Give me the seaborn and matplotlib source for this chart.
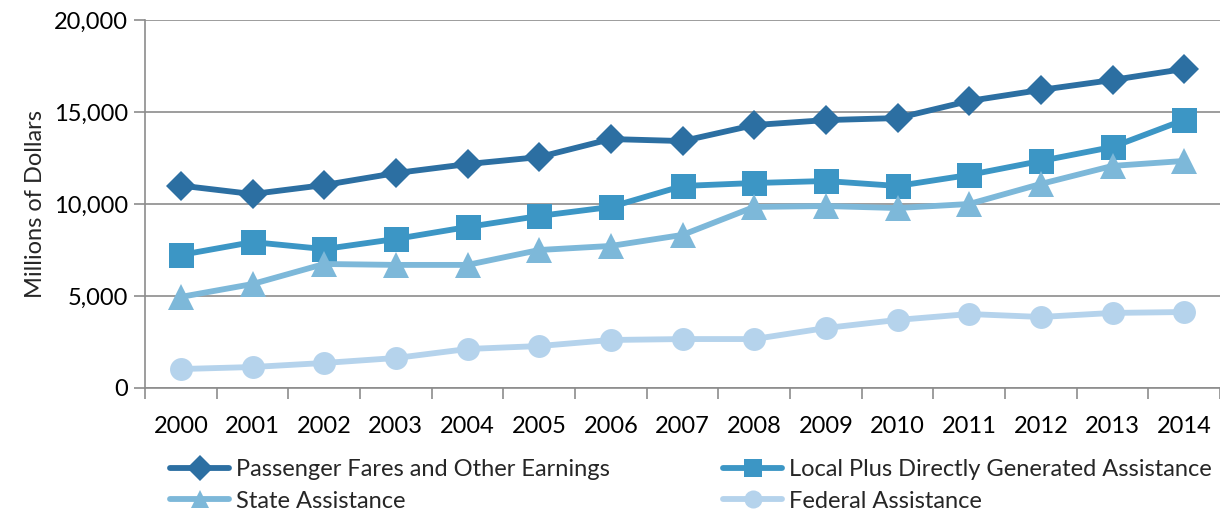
import matplotlib
matplotlib.use("Agg")
import matplotlib.pyplot as plt
import seaborn as sns
import pandas as pd
from matplotlib.ticker import FuncFormatter

years = [str(y) for y in range(2000, 2015)]
passenger = [11000, 10540, 11030, 11680, 12170, 12550, 13530, 13420, 14290, 14560, 14670, 15600, 16200, 16740, 17340]
local = [7230, 7930, 7550, 8100, 8750, 9350, 9840, 10980, 11140, 11250, 10980, 11580, 12340, 13100, 14570]
state = [4950, 5650, 6740, 6690, 6690, 7500, 7720, 8320, 9840, 9890, 9780, 10000, 11090, 12070, 12340]
federal = [1030, 1140, 1360, 1630, 2120, 2280, 2610, 2660, 2660, 3260, 3700, 4020, 3860, 4080, 4130]

names = ["Passenger Fares and Other Earnings", "Local Plus Directly Generated Assistance",
         "State Assistance", "Federal Assistance"]
colors = ["#2C6FA2", "#3C96C5", "#7DB8D9", "#B5D3EC"]
markers = ["D", "s", "^", "o"]
msizes = [15.5, 18, 18.5, 16.5]
FS = 17

sns.set_theme(style="white")
plt.rcParams['font.family'] = ['Lato', 'DejaVu Sans']

rows = []
for n, vals in zip(names, [passenger, local, state, federal]):
    for i, (y, v) in enumerate(zip(years, vals)):
        rows.append({"idx": i, "year": y, "value": v, "series": n})
df = pd.DataFrame(rows)

fig = plt.figure(figsize=(12.2, 5.16), dpi=100)
ax = fig.add_axes([145/1220, 1-388/516, (1220-145)/1220, (388-20)/516])

handles = {}
for n, c, m, ms in zip(names, colors, markers, msizes):
    sub = df[df.series == n]
    sns.lineplot(data=sub, x="idx", y="value", ax=ax, color=c, marker=m, markersize=ms,
                 markeredgewidth=0, linewidth=4.2, label=n, legend=False)
    handles[n] = ax.lines[-1]

ax.set_xlim(-0.5, 14.5)
ax.set_ylim(0, 20000)
ax.set_yticks([0, 5000, 10000, 15000, 20000])
ax.yaxis.set_major_formatter(FuncFormatter(lambda v, p: f"{int(v):,}"))
ax.set_xticks(range(15))
ax.set_xticklabels(years)
ax.set_xticks([i - 0.5 for i in range(16)], minor=True)
ax.grid(axis='y', color='#8C8C8C', linewidth=1.2)
ax.set_axisbelow(True)
for s in ['top', 'right']:
    ax.spines[s].set_visible(False)
for s in ['left', 'bottom']:
    ax.spines[s].set_color('#8C8C8C')
    ax.spines[s].set_linewidth(1.2)
ax.tick_params(axis='y', which='major', length=8, width=1.2, color='#8C8C8C', direction='out',
               labelsize=FS, pad=4, left=True)
ax.tick_params(axis='x', which='major', length=0, labelsize=FS, pad=20, bottom=False)
ax.tick_params(axis='x', which='minor', length=8, width=1.2, color='#8C8C8C', direction='out', bottom=True)
ax.set_xlabel("")
ax.set_ylabel("Millions of Dollars", fontsize=FS, labelpad=6)
for t in ax.get_xticklabels() + ax.get_yticklabels():
    t.set_color('black')

order = [names[0], names[2], names[1], names[3]]
leg = fig.legend([handles[n] for n in order], order, ncol=2, loc='upper left',
                 bbox_to_anchor=(170/1220, 1-459/516), frameon=False, fontsize=FS,
                 handlelength=2.5, handletextpad=0.3, columnspacing=4.8,
                 labelspacing=0.45, borderaxespad=0, borderpad=0)
for h in leg.legend_handles:
    h.set_markersize(13)

fig.savefig("out.png", dpi=100)
